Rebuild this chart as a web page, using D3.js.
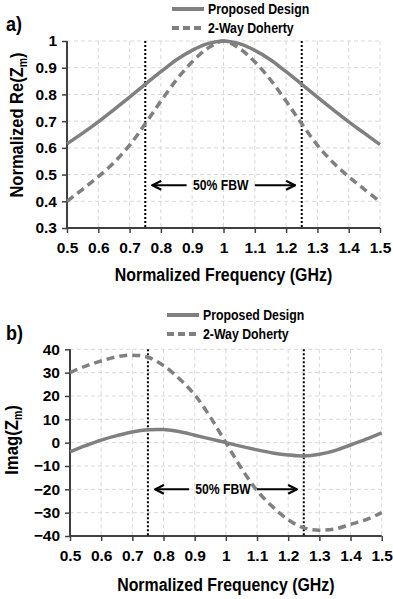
<!DOCTYPE html>
<html>
<head>
<meta charset="utf-8">
<script src="https://cdn.jsdelivr.net/npm/d3@7"></script>
<style>
  body { margin: 0; background: #fff; }
  svg text { font-family: "Liberation Sans", Arial, sans-serif; font-weight: bold; fill: #000; }
</style>
</head>
<body>
<div id="chart"></div>
<script>
// x values (normalized frequency)
const freq = [0.5, 0.55, 0.6, 0.65, 0.7, 0.75, 0.8, 0.85, 0.9, 0.95, 1.0, 1.05, 1.1, 1.15, 1.2, 1.25, 1.3, 1.35, 1.4, 1.45, 1.5];

// panel a) Re(Zm)
const reProposed = [0.615, 0.655, 0.697, 0.743, 0.79, 0.838, 0.885, 0.93, 0.965, 0.99, 1.0, 0.99, 0.965, 0.93, 0.885, 0.838, 0.79, 0.743, 0.697, 0.655, 0.612];
const reDoherty = [0.4, 0.445, 0.492, 0.545, 0.61, 0.69, 0.775, 0.855, 0.922, 0.973, 1.0, 0.973, 0.922, 0.855, 0.775, 0.69, 0.61, 0.545, 0.492, 0.445, 0.398];

// panel b) Imag(Zm)
const imProposed = [-3.9, -1.3, 1.1, 3.0, 4.6, 5.5, 5.6, 4.8, 3.2, 1.6, 0, -1.6, -3.1, -4.4, -5.3, -5.7, -5.0, -3.4, -1.0, 1.5, 4.2];
const imDoherty = [30, 32.8, 35, 36.8, 37.5, 36.6, 33, 27.5, 20.5, 11, 0, -11, -20.5, -27.5, -33, -36.5, -37.5, -37, -35, -33, -30];

const xTicks = [0.5, 0.6, 0.7, 0.8, 0.9, 1, 1.1, 1.2, 1.3, 1.4, 1.5];
const reTicks = [0.3, 0.4, 0.5, 0.6, 0.7, 0.8, 0.9, 1];
const imTicks = [-40, -30, -20, -10, 0, 10, 20, 30, 40];
const band = [0.75, 1.25];
const seriesNames = ["Proposed Design", "2-Way Doherty"];

const W = 393, H = 599;
const svg = d3.select("#chart").append("svg").attr("width", W).attr("height", H);

const lineColor = "#808080";

// narrow-looking bold text: squeeze horizontally around the anchor point
function narrowText(parent, x, y, size, sx, anchor, rotate) {
  return parent.append("text")
    .attr("transform", `translate(${x},${y})${rotate ? " rotate(-90)" : ""} scale(${sx},1)`)
    .attr("text-anchor", anchor).attr("font-size", size);
}

function panel(opt) {
  const x = d3.scaleLinear().domain([0.5, 1.5]).range([opt.left, opt.right]);
  const y = d3.scaleLinear().domain(opt.domain).range([opt.bottom, opt.top]);
  const g = svg.append("g");

  // grid
  g.selectAll(".hgrid").data(opt.yTicks.slice(1)).enter().append("line")
    .attr("x1", opt.left).attr("x2", opt.right)
    .attr("y1", d => y(d)).attr("y2", d => y(d))
    .attr("stroke", "#d9d9d9").attr("stroke-width", 1).attr("stroke-dasharray", "4,3");
  g.selectAll(".vgrid").data(xTicks.slice(1)).enter().append("line")
    .attr("x1", d => x(d)).attr("x2", d => x(d))
    .attr("y1", opt.top).attr("y2", opt.bottom)
    .attr("stroke", "#d9d9d9").attr("stroke-width", 1).attr("stroke-dasharray", "4,3");

  // axes
  const xAxis = g.append("g").attr("transform", `translate(0,${opt.bottom})`)
    .call(d3.axisBottom(x).tickValues(xTicks).tickSize(5).tickPadding(9).tickFormat(d3.format("")));
  const yAxis = g.append("g").attr("transform", `translate(${opt.left},0)`)
    .call(d3.axisLeft(y).tickValues(opt.yTicks).tickSize(5).tickPadding(5).tickFormat(d3.format("")));
  [xAxis, yAxis].forEach(a => {
    a.select(".domain").attr("stroke", "#404040").attr("stroke-width", 2);
    a.selectAll(".tick line").attr("stroke", "#404040").attr("stroke-width", 1.5);
    a.selectAll("text").attr("font-size", 15.5).attr("fill", "#000");
  });
  xAxis.select(".domain").attr("d", `M${opt.left},0H${opt.right}`);
  yAxis.select(".domain").attr("d", `M0,${opt.top}V${opt.bottom}`);

  // band markers
  g.selectAll(".band").data(band).enter().append("line")
    .attr("x1", d => x(d)).attr("x2", d => x(d))
    .attr("y1", opt.top).attr("y2", opt.bottom)
    .attr("stroke", "#000").attr("stroke-width", 2).attr("stroke-dasharray", "2,2");

  // curves
  const line = d3.line().x((d, i) => x(freq[i])).y(d => y(d)).curve(d3.curveCatmullRom);
  g.append("path").datum(opt.proposed).attr("d", line)
    .attr("fill", "none").attr("stroke", lineColor).attr("stroke-width", 3.5);
  g.append("path").datum(opt.doherty).attr("d", line)
    .attr("fill", "none").attr("stroke", lineColor).attr("stroke-width", 3.5).attr("stroke-dasharray", "8,5");

  // FBW annotation
  const ay = y(opt.fbwY);
  g.append("line").attr("x1", x(0.882)).attr("x2", x(0.773)).attr("y1", ay).attr("y2", ay)
    .attr("stroke", "#000").attr("stroke-width", 2).attr("marker-end", "url(#arrow)");
  g.append("line").attr("x1", x(1.1)).attr("x2", x(1.228)).attr("y1", ay).attr("y2", ay)
    .attr("stroke", "#000").attr("stroke-width", 2).attr("marker-end", "url(#arrow)");
  narrowText(g, x(0.991), ay + 5, 14, 0.87, "middle").text("50% FBW");

  // axis titles
  narrowText(g, (opt.left + opt.right) / 2, opt.bottom + opt.titleOffset, 18.5, 0.86, "middle")
    .text("Normalized Frequency (GHz)");
  const yt = narrowText(g, opt.yTitleX, opt.yTitleY, 19, opt.yTitleSx, "middle", true);
  yt.append("tspan").text(opt.yTitle);
  yt.append("tspan").attr("font-size", 12).attr("dy", 4).text("m");
  yt.append("tspan").attr("dy", -4).text(")");

  // panel label
  narrowText(g, 6, opt.labelY, 20, 0.9, "start").text(opt.label);

  // legend
  seriesNames.forEach((name, i) => {
    const ly = opt.legendY + i * 19;
    g.append("line").attr("x1", opt.legendX).attr("x2", opt.legendX + 32)
      .attr("y1", ly).attr("y2", ly)
      .attr("stroke", lineColor).attr("stroke-width", 4)
      .attr("stroke-dasharray", i ? "7,4" : null);
    narrowText(g, opt.legendX + 36, ly + 5, 14, 0.88, "start").text(name);
  });
}

svg.append("defs").append("marker").attr("id", "arrow")
  .attr("viewBox", "0 0 10 10").attr("refX", 9).attr("refY", 5)
  .attr("markerWidth", 5.5).attr("markerHeight", 5.5).attr("orient", "auto")
  .append("path").attr("d", "M1,1L9,5L1,9").attr("fill", "none").attr("stroke", "#000").attr("stroke-width", 2);

panel({
  left: 67, right: 380, top: 41, bottom: 228,
  domain: [0.3, 1], yTicks: reTicks,
  proposed: reProposed, doherty: reDoherty,
  fbwY: 0.46, label: "a)", labelY: 31, titleOffset: 53,
  yTitle: "Normalized Re(Z", yTitleX: 23, yTitleY: 125, yTitleSx: 0.87,
  legendX: 172, legendY: 9
});

panel({
  left: 70, right: 381.7, top: 349.3, bottom: 536,
  domain: [-40, 40], yTicks: imTicks,
  proposed: imProposed, doherty: imDoherty,
  fbwY: -20, label: "b)", labelY: 340, titleOffset: 55,
  yTitle: "Imag(Z", yTitleX: 18, yTitleY: 440, yTitleSx: 0.88,
  legendX: 167, legendY: 315
});
</script>
</body>
</html>
